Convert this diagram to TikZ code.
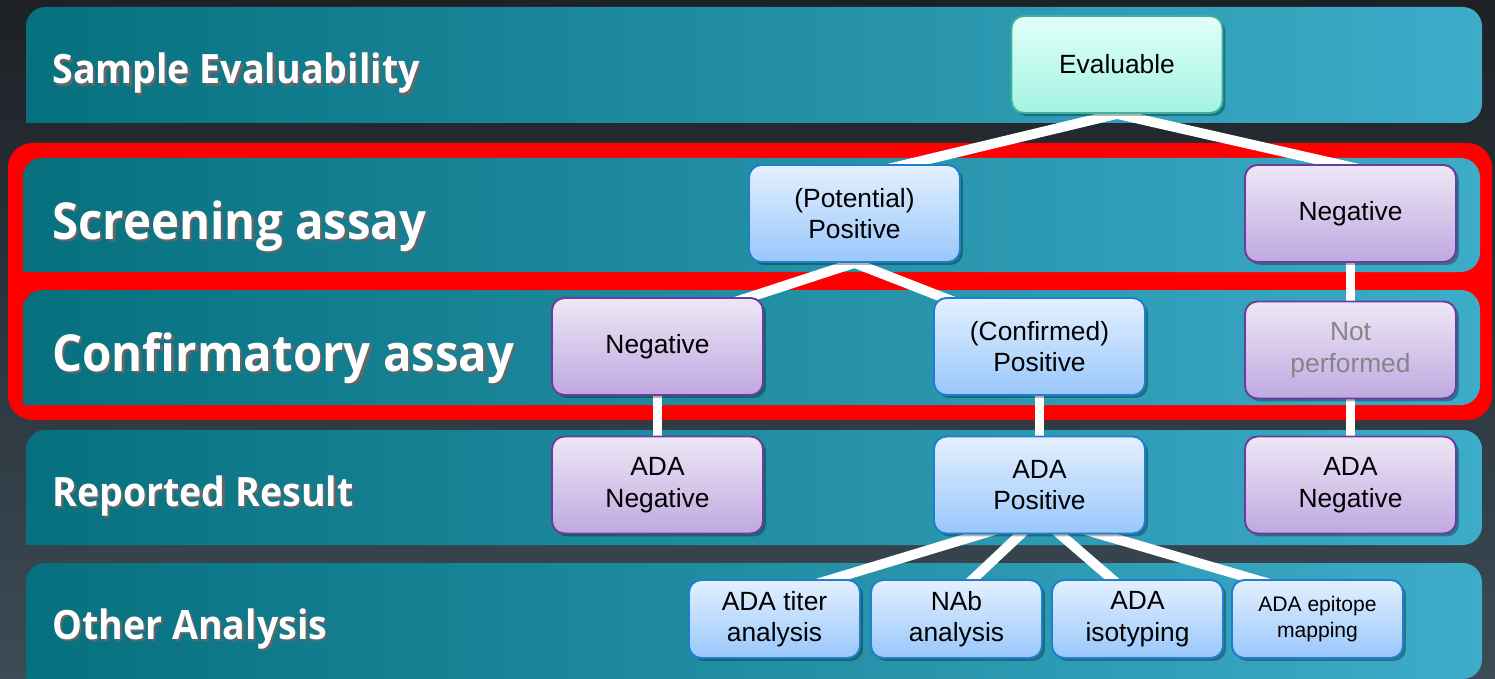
\documentclass[tikz,border=0pt]{standalone}
\usepackage{fontspec}
\setmainfont{Liberation Sans}
\newfontfamily\headfont[FakeStretch=0.93]{Open Sans}
\usetikzlibrary{shadows,backgrounds,calc}
\definecolor{bgtop}{HTML}{1D2126}
\definecolor{bgbot}{HTML}{3C4B55}
\definecolor{bandleft}{HTML}{06707E}
\definecolor{bandright}{HTML}{3DACC9}
\definecolor{framered}{HTML}{FF0000}
\definecolor{minttop}{HTML}{E2FFF8}
\definecolor{mintbot}{HTML}{A4F3E2}
\definecolor{mintline}{HTML}{3DB39D}
\definecolor{bluetop}{HTML}{E4F0FF}
\definecolor{bluebot}{HTML}{98C7FB}
\definecolor{blueline}{HTML}{1E7ECF}
\definecolor{purptop}{HTML}{EEE7F6}
\definecolor{purpbot}{HTML}{BFA8E0}
\definecolor{purpline}{HTML}{6B3C9C}
\newcommand{\rowtext}[1]{\makebox[0pt][l]{\raisebox{-1.3pt}{\hspace{1.3pt}\textcolor{black!60}{#1}}}#1}

\begin{document}
\begin{tikzpicture}[x=0.02cm, y=-0.02cm,
  band/.style={left color=bandleft, right color=bandright},
  rowlabel/.style={anchor=base west, inner sep=0pt, text=white, font=\headfont\bfseries\fontsize{23}{28}\selectfont},
  biglabel/.style={rowlabel, font=\headfont\bfseries\fontsize{29}{34}\selectfont},
  box/.style={rounded corners=7pt, minimum width=4.22cm, minimum height=1.94cm, align=center,
    font=\fontsize{15}{18}\selectfont, line width=1.1pt,
    drop shadow={shadow xshift=0.6mm, shadow yshift=-0.6mm, opacity=0.3, fill=black}},
  smallbox/.style={box, minimum width=3.42cm, minimum height=1.56cm},
  mintbox/.style={top color=minttop, bottom color=mintbot, draw=mintline},
  posbox/.style={top color=bluetop, bottom color=bluebot, draw=blueline},
  negbox/.style={top color=purptop, bottom color=purpbot, draw=purpline},
  link/.style={white, line width=5.6pt}
]
  \useasboundingbox (0,0) rectangle (1495,679);

  % Background, bands and red frame
  \begin{pgfonlayer}{background}
    \shade[top color=bgtop, bottom color=bgbot] (0,0) rectangle (1495,679);
    \fill[framered, rounded corners=14pt] (8,143) rectangle (1492,420);
    \shade[band] (26,123) [rounded corners=11pt] -- (26,7) -- (1482,7) -- (1482,123) [sharp corners] -- cycle;
    \shade[band] (23,272) [rounded corners=11pt] -- (23,158) -- (1480,158) -- (1480,272) [sharp corners] -- cycle;
    \shade[band] (23,405) [rounded corners=11pt] -- (23,290) -- (1480,290) -- (1480,405) [sharp corners] -- cycle;
    \shade[band] (26,545) [rounded corners=11pt] -- (26,430) -- (1482,430) -- (1482,545) [sharp corners] -- cycle;
    \shade[band] (26,679) [rounded corners=11pt] -- (26,563) -- (1482,563) -- (1482,679) [sharp corners] -- cycle;
  \end{pgfonlayer}

  % Row labels
  \node[rowlabel] (lsample) at (52,84) {\rowtext{Sample Evaluability}};
  \node[biglabel] (lscreen) at (52,239) {\rowtext{Screening assay}};
  \node[biglabel] (lconfirm) at (52,371) {\rowtext{Confirmatory assay}};
  \node[rowlabel] (lreport) at (52,506) {\rowtext{Reported Result}};
  \node[rowlabel] (lother) at (52,639) {\rowtext{Other Analysis}};

  % Nodes
  \node[box, mintbox] (eval) at (1117,64.5) {Evaluable};
  \node[box, posbox] (potpos) at (854.5,213.5) {(Potential)\\Positive};
  \node[box, negbox] (scrneg) at (1350.5,213.5) {Negative};
  \node[box, negbox] (conneg) at (657.5,346.5) {Negative};
  \node[box, posbox] (conpos) at (1039.5,346.5) {(Confirmed)\\Positive};
  \node[box, negbox, text=black!48] (notperf) at (1350.5,350) {Not\\performed};
  \node[box, negbox] (adaneg) at (657.5,485) {ADA\\Negative};
  \node[box, posbox] (adapos) at (1039.5,485) {ADA\\Positive};
  \node[box, negbox] (adaneg2) at (1350.5,485) {ADA\\Negative};
  \node[smallbox, posbox] (titer) at (774.5,619) {ADA titer\\analysis};
  \node[smallbox, posbox] (nab) at (956.5,619) {NAb\\analysis};
  \node[smallbox, posbox] (iso) at (1137.5,619) {ADA\\isotyping};
  \node[smallbox, posbox, font=\fontsize{12}{15}\selectfont] (epi) at (1317.5,619) {ADA epitope\\mapping};

  % Connectors
  \begin{pgfonlayer}{background}
    \draw[link] (eval.south) -- ($(potpos.north)+(12,10)$);
    \draw[link] (eval.south) -- ($(scrneg.north)+(31,10)$);
    \draw[link] (potpos.south) -- ($(conneg.north)+(68,8)$);
    \draw[link] (potpos.south) -- ($(conpos.north)+(-77,8)$);
    \draw[link] (scrneg.south) -- (notperf.north);
    \draw[link] (conneg.south) -- (adaneg.north);
    \draw[link] (conpos.south) -- (adapos.north);
    \draw[link] (notperf.south) -- (adaneg2.north);
    \coordinate (fork) at ($(adapos.south)+(0,-18)$);
    \draw[link] (fork) -- ($(titer.north)+(25,10)$);
    \draw[link] (fork) -- ($(nab.north)+(6,10)$);
    \draw[link] (fork) -- ($(iso.north)+(-14,10)$);
    \draw[link] (fork) -- ($(epi.north)+(-30,10)$);
  \end{pgfonlayer}
\end{tikzpicture}
\end{document}
